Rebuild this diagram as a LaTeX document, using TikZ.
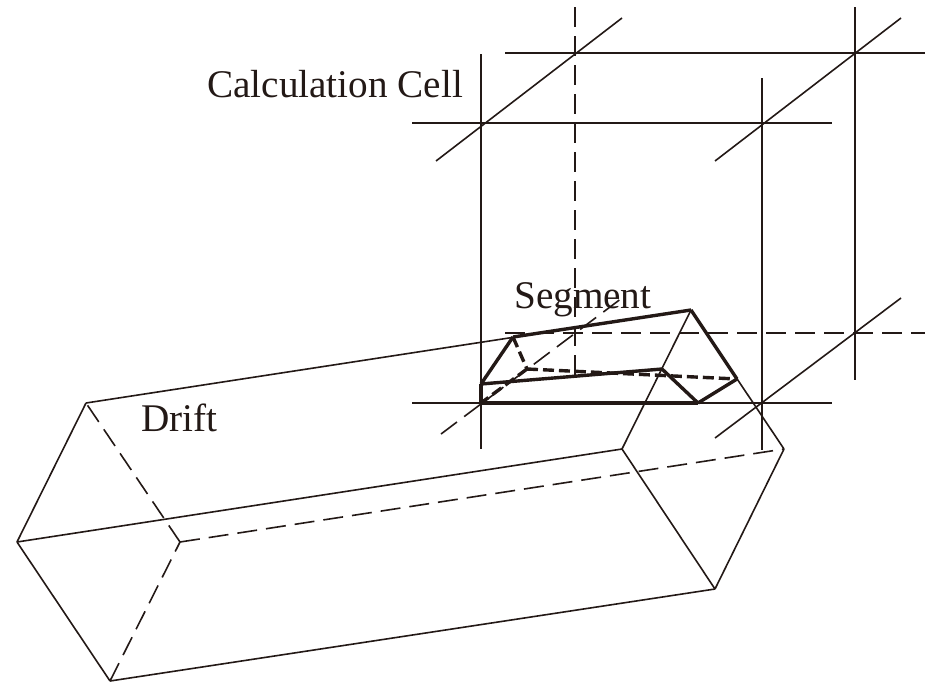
\documentclass[tikz,border=0pt]{standalone}
\usepackage{fontspec}
\setmainfont{Liberation Serif}
\definecolor{inkcol}{RGB}{35,25,22}
\begin{document}
\begin{tikzpicture}[x=1pt,y=-1pt,
thinline/.style = {line width=1.6pt,inkcol},
thickline/.style = {line width=3.4pt,inkcol},
hidden/.style = {dash pattern=on 20pt off 9pt},
hiddenseg/.style = {dash pattern=on 11pt off 5pt},
every node/.append style = {font=\fontsize{39.2}{44}\selectfont,inner sep=0pt,anchor=base west,text=inkcol}]

        \useasboundingbox (0,0) rectangle (934,681);

        % calculation cell
        \coordinate (FTL_a) at ( 412, 123 );
        \coordinate (FTL_b) at ( 832, 123 );
        \coordinate (BTL_a) at ( 505, 53 );
        \coordinate (BTL_b) at ( 925, 53 );
        \coordinate (FBL_a) at ( 412, 403 );
        \coordinate (FBL_b) at ( 832, 403 );
        \coordinate (BBL_a) at ( 505, 333 );
        \coordinate (BBL_b) at ( 925, 333 );
        \draw[thinline] (FTL_a) -- (FTL_b);
        \draw[thinline] (BTL_a) -- (BTL_b);
        \draw[thinline] (FBL_a) -- (FBL_b);
        \draw[thinline,hidden] (BBL_a) -- (BBL_b);

        \coordinate (V1_a) at ( 481, 54 );
        \coordinate (V1_b) at ( 481, 449 );
        \coordinate (V2_a) at ( 575, 7 );
        \coordinate (V2_b) at ( 575, 379 );
        \coordinate (V3_a) at ( 762, 78 );
        \coordinate (V3_b) at ( 762, 450 );
        \coordinate (V4_a) at ( 855, 7 );
        \coordinate (V4_b) at ( 855, 380 );
        \draw[thinline] (V1_a) -- (V1_b);
        \draw[thinline,hidden] (V2_a) -- (V2_b);
        \draw[thinline] (V3_a) -- (V3_b);
        \draw[thinline] (V4_a) -- (V4_b);

        \coordinate (D1_a) at ( 436, 161 );
        \coordinate (D1_b) at ( 622, 18 );
        \coordinate (D2_a) at ( 715, 161 );
        \coordinate (D2_b) at ( 901, 18 );
        \coordinate (D3_a) at ( 441, 434 );
        \coordinate (D3_b) at ( 622, 298 );
        \coordinate (D4_a) at ( 715, 438 );
        \coordinate (D4_b) at ( 901, 298 );
        \draw[thinline] (D1_a) -- (D1_b);
        \draw[thinline] (D2_a) -- (D2_b);
        \draw[thinline,hidden] (D3_a) -- (D3_b);
        \draw[thinline] (D4_a) -- (D4_b);

        % drift
        \coordinate (BK_T) at ( 86, 403 );
        \coordinate (BK_L) at ( 17, 542 );
        \coordinate (BK_B) at ( 110, 681 );
        \coordinate (BK_R) at ( 180, 542 );
        \coordinate (FR_T) at ( 691, 310 );
        \coordinate (FR_L) at ( 622, 449 );
        \coordinate (FR_B) at ( 715, 589 );
        \coordinate (FR_R) at ( 784, 449 );
        \draw[thinline] (BK_T) -- (BK_L);
        \draw[thinline] (BK_L) -- (BK_B);
        \draw[thinline,hidden] (BK_B) -- (BK_R);
        \draw[thinline,hidden] (BK_R) -- (BK_T);
        \draw[thinline] (BK_T) -- (FR_T);
        \draw[thinline] (BK_L) -- (FR_L);
        \draw[thinline] (BK_B) -- (FR_B);
        \draw[thinline,hidden] (BK_R) -- (FR_R);
        \draw[thinline] (FR_T) -- (FR_L);
        \draw[thinline] (FR_L) -- (FR_B);
        \draw[thinline] (FR_B) -- (FR_R);
        \draw[thinline] (FR_R) -- (FR_T);

        % segment
        \coordinate (SG_A) at ( 481, 403 );
        \coordinate (SG_B) at ( 481, 384 );
        \coordinate (SG_C) at ( 513, 337 );
        \coordinate (SG_D) at ( 691, 310 );
        \coordinate (SG_E) at ( 737, 379 );
        \coordinate (SG_F) at ( 698, 403 );
        \coordinate (SG_G) at ( 662, 369 );
        \coordinate (SG_H) at ( 527, 369 );
        \draw[thickline] (SG_A) -- (SG_B);
        \draw[thickline] (SG_B) -- (SG_C);
        \draw[thickline] (SG_C) -- (SG_D);
        \draw[thickline] (SG_D) -- (SG_E);
        \draw[thickline] (SG_E) -- (SG_F);
        \draw[thickline] (SG_F) -- (SG_A);
        \draw[thickline] (SG_B) -- (SG_G);
        \draw[thickline] (SG_G) -- (SG_F);
        \draw[thickline,hiddenseg] (SG_C) -- (SG_H);
        \draw[thickline,hiddenseg] (SG_H) -- (SG_E);
        \draw[thickline,hiddenseg] (SG_H) -- (SG_A);

        \node (CellLabel) at ( 207, 97 ) {Calculation Cell};
        \node (SegmentLabel) at ( 514, 308 ) {Segment};
        \node (DriftLabel) at ( 141, 431 ) {Drift};

    \end{tikzpicture}
\end{document}
